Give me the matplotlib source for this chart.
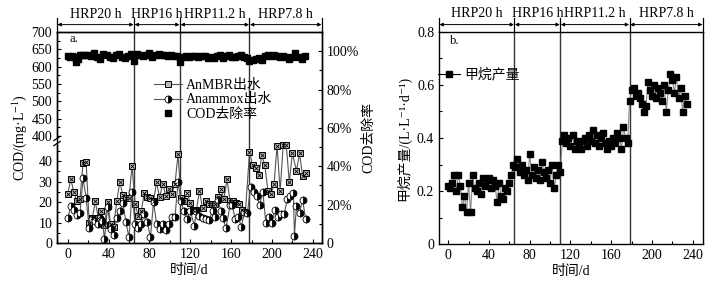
import numpy as np
import matplotlib
matplotlib.use("Agg")
import matplotlib.pyplot as plt
from matplotlib.ticker import FixedLocator, MultipleLocator, FuncFormatter

plt.rcParams['font.family'] = ['Liberation Serif', 'Noto Sans CJK SC', 'DejaVu Sans']
plt.rcParams['mathtext.fontset'] = 'stix'
plt.rcParams['font.size'] = 10

# ---------------- data ----------------
phase_bounds = [65, 110, 178]
phase_labels = ["HRP20 h", "HRP16 h", "HRP11.2 h", "HRP7.8 h"]

anmbr_days = [0, 3, 6, 9, 12, 15, 18, 21, 24, 27, 30, 33, 36, 39, 42, 45, 48, 51, 54, 57, 60, 63,
              66, 69, 72, 75, 78, 81, 84, 87, 90, 93, 96, 99, 102, 105, 108,
              111, 114, 117, 120, 123, 126, 129, 132, 135, 138, 141, 144, 147, 150, 153, 156, 159,
              162, 165, 168, 171, 174,
              178, 181, 184, 187, 190, 193, 196, 199, 202, 205, 208, 211, 214, 217, 220, 224, 227, 230, 233]
anmbr_cod = [23.8, 31.2, 24.8, 20.3, 21.4, 39.0, 39.7, 10.0, 12.0, 20.3, 12.0, 15.5, 9.0, 19.8, 9.5, 8.0,
             20.3, 29.8, 23.2, 22.0, 22.0, 37.5,
             19.0, 13.4, 15.5, 24.3, 22.4, 22.0, 20.3, 29.6, 22.2, 29.0, 23.0, 26.2, 24.0, 28.8, 43.2,
             22.0, 20.6, 24.3, 19.5, 16.0, 16.0, 25.6, 17.0, 20.6, 19.2, 19.0, 19.2, 22.2, 26.2, 21.6,
             31.0, 20.3, 20.6, 19.5, 19.0, 16.3, 15.0,
             44.3, 38.2, 36.6, 33.0, 42.7, 38.2, 25.4, 23.8, 28.6, 47.5, 25.4, 47.8, 47.8, 29.6, 43.8,
             35.2, 43.8, 32.8, 34.0]

anammox_days = [0, 3, 6, 9, 12, 15, 18, 21, 24, 27, 30, 32, 34, 36, 39, 42, 45, 48, 51, 54, 57, 60, 63,
                66, 69, 72, 75, 78, 81, 84, 87, 90, 93, 96, 99, 102, 105, 108,
                111, 114, 117, 120, 124, 126, 129, 132, 135, 138, 142, 144, 147, 150, 152, 155, 159,
                161, 164, 167, 170, 173, 176,
                179, 182, 185, 188, 191, 194, 197, 200, 203, 206, 209, 212, 215, 218, 221, 222, 224,
                227, 230, 233]
anammox_cod = [12.0, 18.0, 16.0, 13.6, 14.4, 31.5, 22.0, 7.2, 11.5, 10.7, 9.1, 12.3, 10.7, 1.9, 17.6,
               7.0, 3.8, 12.3, 15.8, 19.5, 10.2, 2.7, 25.1,
               9.4, 7.5, 9.1, 14.0, 10.2, 2.7, 20.0, 9.4, 6.7, 9.4, 6.4, 9.1, 12.8, 12.6, 29.6,
               20.3, 15.5, 11.5, 15.8, 8.3, 15.8, 13.4, 12.3, 11.8, 11.0, 15.5, 12.8, 21.1, 15.8,
               12.3, 7.2, 18.7, 18.7, 11.5, 12.8, 7.8, 15.0, 14.7,
               27.2, 24.8, 23.0, 18.7, 25.1, 9.9, 12.8, 9.9, 16.3, 12.8, 14.0, 14.0, 21.4, 22.7,
               24.3, 3.5, 18.2, 14.7, 21.1, 11.5]

removal_days = [0, 2, 4, 6, 8, 10, 12, 14, 17, 20, 23, 26, 29, 32, 35, 38, 41, 44, 47, 50, 53, 56, 59,
                62, 65, 68, 71, 74, 77, 80, 83, 86, 89, 92, 95, 98, 101, 104, 107, 110, 113, 116,
                119, 122, 125, 128, 131, 134, 137, 140, 143, 146, 149, 152, 155, 158, 161, 164, 167,
                170, 173, 176, 178, 181, 184, 187, 190, 193, 196, 199, 202, 205, 208, 211, 214, 217,
                220, 223, 226, 229, 232]
removal_pct = [97.6, 97.2, 97.4, 97.0, 94.5, 96.0, 98.0, 98.0, 97.8, 98.2, 97.7, 98.8, 97.0, 95.8,
               98.5, 98.0, 97.0, 96.5, 97.8, 98.5, 97.0, 96.5, 97.5, 98.5, 95.0, 98.5, 98.2, 97.5,
               98.0, 98.8, 97.0, 98.0, 98.3, 97.8, 98.2, 97.5, 98.0, 97.5, 97.3, 94.6, 97.0, 97.5,
               96.8, 97.4, 97.6, 97.2, 97.5, 97.3, 96.5, 97.0, 96.5, 97.5, 98.0, 96.5, 97.5, 97.8,
               97.0, 96.8, 97.5, 97.8, 96.8, 96.5, 95.0, 95.5, 95.8, 96.5, 95.5, 97.5, 98.0, 97.3,
               97.8, 97.5, 97.0, 97.3, 96.8, 96.0, 96.8, 99.0, 97.0, 96.0, 97.5]

methane_days = list(range(0, 235, 2))
methane_rate = [0.22, 0.21, 0.23, 0.26, 0.20, 0.26, 0.22, 0.14, 0.18, 0.12, 0.23, 0.12, 0.26, 0.21,
                0.20, 0.23, 0.19, 0.25, 0.22, 0.24, 0.25, 0.21, 0.24, 0.22, 0.16, 0.23, 0.18, 0.17,
                0.21, 0.20, 0.23, 0.26, 0.30,
                0.29, 0.32, 0.27, 0.30, 0.26, 0.28, 0.24, 0.34, 0.26, 0.29, 0.25, 0.28, 0.24, 0.31,
                0.27, 0.25, 0.28, 0.23, 0.30, 0.21, 0.26, 0.30, 0.27,
                0.39, 0.41, 0.38, 0.40, 0.37, 0.41, 0.36, 0.39, 0.38, 0.36, 0.39, 0.40, 0.37, 0.41,
                0.39, 0.43, 0.38, 0.41, 0.37, 0.40, 0.42, 0.38, 0.36, 0.39, 0.37, 0.40, 0.38, 0.42,
                0.40, 0.36, 0.44, 0.40, 0.38,
                0.54, 0.58, 0.59, 0.56, 0.57, 0.55, 0.53, 0.50, 0.52, 0.61, 0.58, 0.56, 0.60, 0.55,
                0.59, 0.57, 0.54, 0.60, 0.50, 0.58, 0.64, 0.62, 0.57, 0.63, 0.55, 0.59, 0.50, 0.56,
                0.53]

# ---------------- broken-axis scale ----------------
def fwd(v):
    v = np.asarray(v, dtype=float)
    lo = v * 2.05
    mid = 100.45 + (v - 49) * (101.8 - 100.45) / (385 - 49)
    hi = 107 + (v - 400) * 0.3467
    return np.where(v <= 49, lo, np.where(v >= 385, hi, mid))

def inv(p):
    p = np.asarray(p, dtype=float)
    lo = p / 2.05
    mid = 49 + (p - 100.45) * (385 - 49) / (101.8 - 100.45)
    hi = 400 + (p - 107) / 0.3467
    return np.where(p <= 100.45, lo, np.where(p >= 101.8, hi, mid))

W, H = 717, 283
fig = plt.figure(figsize=(W / 100, H / 100), dpi=100)

def ax_rect(l, r, t, b):
    return [l / W, (H - b) / H, (r - l) / W, (b - t) / H]

line_col = '#555555'
bound_col = '#333333'

def style_axis(ax):
    ax.tick_params(direction='in', which='both', length=3, width=0.8, labelsize=10)
    ax.tick_params(which='minor', length=2)
    for s in ax.spines.values():
        s.set_linewidth(1.0)

def top_annotations(ax, xmin, xmax):
    tr = ax.get_xaxis_transform()
    edges = [xmin] + phase_bounds + [xmax]
    for e in edges:
        ax.plot([e, e], [1.0, 1.065], transform=tr, color='black', lw=0.9, clip_on=False)
    for i, lab in enumerate(phase_labels):
        a, b = edges[i], edges[i + 1]
        ax.annotate('', xy=(a + 0.5, 1.035), xytext=(b - 0.5, 1.035), xycoords=tr, textcoords=tr,
                    arrowprops=dict(arrowstyle='<|-|>', color='black', lw=0.7,
                                    mutation_scale=5, shrinkA=0, shrinkB=0))
        ax.text((a + b) / 2, 1.085, lab, transform=tr, ha='center', va='center', fontsize=10)
    for e in phase_bounds:
        ax.axvline(e, color=bound_col, lw=1.0, zorder=1)

# ---------------- left panel ----------------
xmin, xmax = -10.5, 249
axL = fig.add_axes(ax_rect(57, 322, 32, 243))
axL.set_yscale('function', functions=(fwd, inv))
axL.set_xlim(xmin, xmax)
axL.set_ylim(0, 700)
axL.yaxis.set_major_locator(FixedLocator([0, 10, 20, 30, 40] + list(range(400, 701, 50))))
axL.yaxis.set_minor_locator(FixedLocator([5, 15, 25, 35, 45] + list(range(425, 700, 50))))
axL.yaxis.set_major_formatter(FuncFormatter(lambda v, p: f"{v:.0f}"))
axL.yaxis.set_minor_formatter(FuncFormatter(lambda v, p: ""))
axL.xaxis.set_major_locator(MultipleLocator(40))
axL.xaxis.set_minor_locator(MultipleLocator(20))
style_axis(axL)
axL.tick_params(axis='y', which='both', right=False)

top_annotations(axL, xmin, xmax)

l1, = axL.plot(anmbr_days, anmbr_cod, '-', color=line_col, lw=0.8, marker='s', ms=4.6,
               mfc='#bbbbbb', mec='black', mew=0.7, zorder=3)
axL.plot(anmbr_days, anmbr_cod, 'x', color='black', ms=3.0, mew=0.6, zorder=4)
l2, = axL.plot(anammox_days, anammox_cod, '-', color=line_col, lw=0.8, marker='o', ms=5,
               fillstyle='right', mfc='black', mfcalt='white', mec='black', mew=0.6, zorder=3)

axL.set_xlabel('时间/d', fontsize=10, labelpad=2)
axL.set_ylabel('COD/(mg·L$^{-1}$)', fontsize=10, labelpad=2)

# break marks on left spine
yb = (243 - 141) / 211
axL.add_patch(plt.Rectangle((-0.01, yb - 0.012), 0.02, 0.024, transform=axL.transAxes,
                            color='white', clip_on=False, zorder=10))
for dy in (-0.012, 0.012):
    axL.plot([-0.012, 0.012], [yb + dy - 0.01, yb + dy + 0.01], transform=axL.transAxes,
             color='black', lw=0.9, clip_on=False, zorder=11)

axR = axL.twinx()
axR.set_ylim(0, 110)
axR.yaxis.set_major_locator(FixedLocator([0, 20, 40, 60, 80, 100]))
axR.yaxis.set_minor_locator(MultipleLocator(10))
axR.yaxis.set_major_formatter(FuncFormatter(lambda v, p: "0" if v == 0 else f"{v:.0f}%"))
style_axis(axR)
l3, = axR.plot(removal_days, removal_pct, 's', color='black', ms=4.2, zorder=3)
axR.set_ylabel('COD去除率', fontsize=10, labelpad=2)

axL.text(2, 670, 'a.', fontsize=9)

axR.legend([l1, l2, l3], ['AnMBR出水', 'Anammox出水', 'COD去除率'],
           loc='upper left', bbox_to_anchor=(0.34, 0.81), frameon=False, fontsize=10,
           handlelength=2.0, handletextpad=0.3, labelspacing=0.1, borderpad=0)

# ---------------- right panel ----------------
xmin2, xmax2 = -9, 250
axB = fig.add_axes(ax_rect(439, 703, 32, 244))
axB.set_xlim(xmin2, xmax2)
axB.set_ylim(0, 0.8)
axB.xaxis.set_major_locator(MultipleLocator(40))
axB.xaxis.set_minor_locator(MultipleLocator(20))
axB.yaxis.set_major_locator(MultipleLocator(0.2))
axB.yaxis.set_minor_locator(MultipleLocator(0.1))
axB.yaxis.set_major_formatter(FuncFormatter(lambda v, p: "0" if abs(v) < 1e-9 else f"{v:.1f}"))
style_axis(axB)
top_annotations(axB, xmin2, xmax2)
lm, = axB.plot(methane_days, methane_rate, '-', color='#888888', lw=0.8, marker='s', ms=5,
               mfc='black', mec='black', zorder=3)
axB.set_xlabel('时间/d', fontsize=10, labelpad=2)
axB.set_ylabel('甲烷产量/(L·L⁻¹·d⁻¹)', fontsize=10, labelpad=4)
axB.text(2, 0.755, 'b.', fontsize=9)
leg_line = plt.Line2D([], [], color='black', lw=0.8, marker='s', ms=4, mfc='black', mec='black')
axB.legend([leg_line], ['甲烷产量'], loc='upper left', bbox_to_anchor=(-0.005, 0.83), frameon=False,
           fontsize=10, handlelength=1.6, handletextpad=0.3, borderpad=0, borderaxespad=0)

fig.savefig('out.png', dpi=100)
